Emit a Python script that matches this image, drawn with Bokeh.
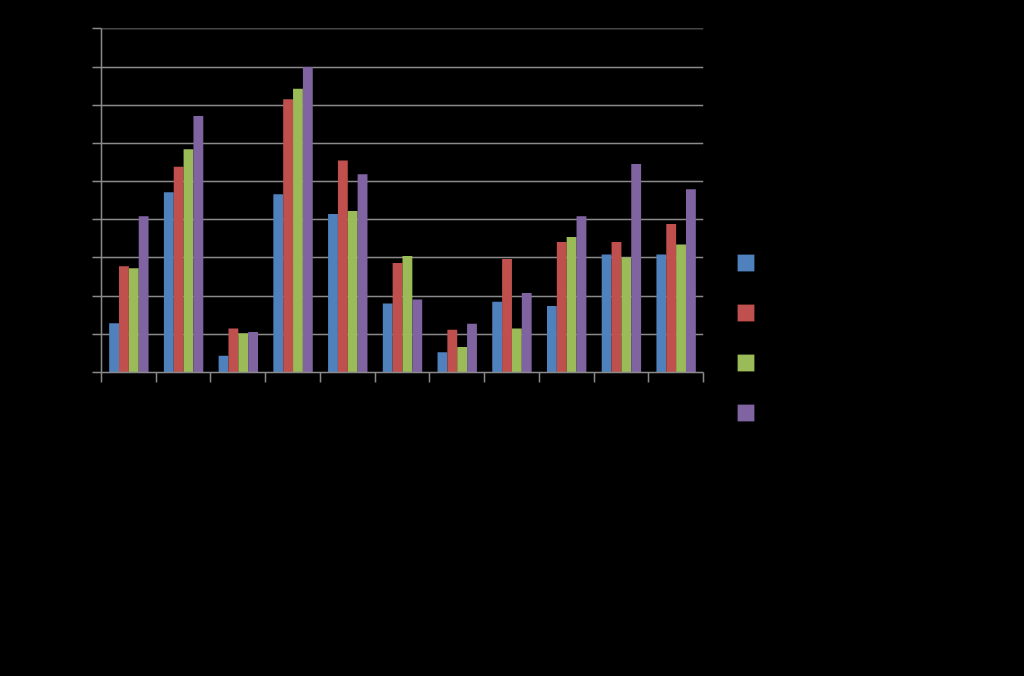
from bokeh.plotting import figure
from bokeh.models import ColumnDataSource, FixedTicker, Legend, LegendItem, Range1d
from bokeh.transform import dodge
from bokeh.embed import file_html
from bokeh.resources import INLINE
import numpy as np

categories = ["1", "2", "3", "4", "5", "6", "7", "8", "9", "10", "11"]
series_names = ["Series1", "Series2", "Series3", "Series4"]
s1 = [1.29, 4.72, 0.44, 4.67, 4.15, 1.81, 0.53, 1.85, 1.74, 3.09, 3.09]
s2 = [2.78, 5.39, 1.15, 7.16, 5.55, 2.87, 1.12, 2.97, 3.42, 3.42, 3.89]
s3 = [2.73, 5.85, 1.03, 7.43, 4.23, 3.05, 0.67, 1.15, 3.55, 3.01, 3.35]
s4 = [4.09, 6.72, 1.06, 8.00, 5.19, 1.91, 1.28, 2.08, 4.09, 5.46, 4.80]
colors = ["#4F81BD", "#C0504D", "#9BBB59", "#8064A2"]

x = np.arange(len(categories)) + 0.5
source = ColumnDataSource(dict(x=x, s1=s1, s2=s2, s3=s3, s4=s4))

p = figure(width=1016, height=668, output_backend="svg", toolbar_location=None,
           x_range=Range1d(0, len(categories)), y_range=Range1d(0, 9.01),
           frame_width=602, frame_height=344,
           min_border_left=101, min_border_top=28, min_border_right=313, min_border_bottom=296)
p.background_fill_color = "black"
p.border_fill_color = "black"
p.outline_line_color = None

offsets = [-0.27, -0.09, 0.09, 0.27]
renderers = []
for col, off, c in zip(["s1", "s2", "s3", "s4"], offsets, colors):
    r = p.vbar(x=dodge("x", off), top=col, width=0.18, bottom=0, source=source,
               fill_color=c, line_color=None)
    renderers.append(r)

p.xgrid.visible = False
p.ygrid.ticker = FixedTicker(ticks=list(range(0, 10)))
p.ygrid.grid_line_color = "#8a8a8a"
p.ygrid.grid_line_width = 1.5

p.yaxis.ticker = FixedTicker(ticks=list(range(0, 10)))
p.yaxis.axis_line_color = "#8a8a8a"
p.yaxis.axis_line_width = 1.5
p.yaxis.major_tick_line_color = "#8a8a8a"
p.yaxis.major_tick_line_width = 1.5
p.yaxis.major_tick_out = 9
p.yaxis.major_tick_in = 0
p.yaxis.minor_tick_line_color = None
p.yaxis.major_label_text_color = "black"

p.xaxis.ticker = FixedTicker(ticks=list(range(0, len(categories) + 1)))
p.xaxis.major_label_overrides = {i: "" for i in range(0, len(categories) + 1)}
p.xaxis.axis_line_color = "#8a8a8a"
p.xaxis.axis_line_width = 1.5
p.xaxis.major_tick_line_color = "#8a8a8a"
p.xaxis.major_tick_line_width = 1.5
p.xaxis.major_tick_out = 10
p.xaxis.major_tick_in = 0
p.xaxis.minor_tick_line_color = None
p.xaxis.major_label_text_color = "black"

legend = Legend(items=[LegendItem(label=n, renderers=[r]) for n, r in zip(series_names, renderers)],
                location=(32, -51), orientation="vertical")
legend.border_line_color = None
legend.background_fill_alpha = 0
legend.padding = 0
legend.margin = 0
legend.glyph_width = 21
legend.glyph_height = 21
legend.label_height = 21
legend.spacing = 29
legend.label_text_color = "black"
legend.label_text_font_size = "12px"
p.add_layout(legend, "right")

html = file_html(p, INLINE)
html = html.replace("</head>", "<style>html,body{background:#000;}</style></head>", 1)
open("out.html", "w").write(html)
